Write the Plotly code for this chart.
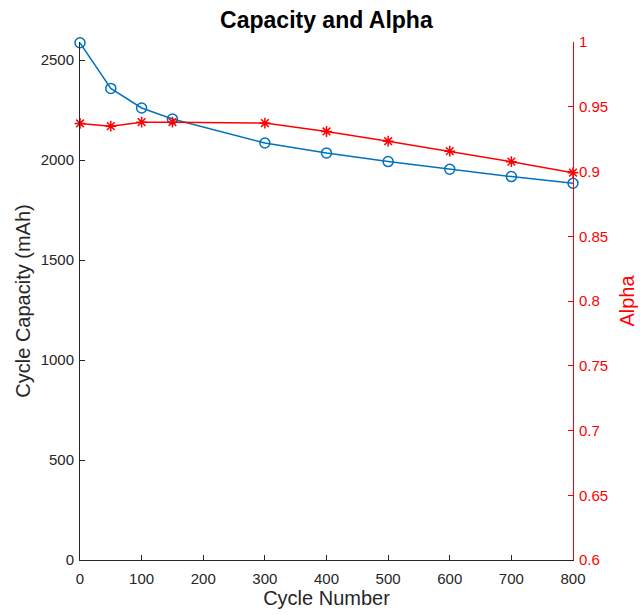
import plotly.graph_objects as go

# Cycle data
cycle_number = [0, 50, 100, 150, 300, 400, 500, 600, 700, 800]
capacity_mah = [2586, 2358, 2260, 2205, 2085, 2035, 1992, 1954, 1917, 1884]
alpha = [0.9371, 0.9350, 0.9381, 0.9381, 0.9374, 0.9309, 0.9234, 0.9157, 0.9076, 0.8991]

x_ticks = [0, 100, 200, 300, 400, 500, 600, 700, 800]
left_ticks = [0, 500, 1000, 1500, 2000, 2500]
right_ticks = [0.6, 0.65, 0.7, 0.75, 0.8, 0.85, 0.9, 0.95, 1.0]
right_tick_text = ["0.6", "0.65", "0.7", "0.75", "0.8", "0.85", "0.9", "0.95", "1"]

BLUE = "#0072BD"
RED = "#FF0000"
DARK = "#262626"
FONT = "Liberation Sans, Arial, sans-serif"

fig = go.Figure()

fig.add_trace(go.Scatter(
    x=cycle_number, y=capacity_mah, mode="lines+markers",
    line=dict(color=BLUE, width=1.5),
    marker=dict(symbol="circle-open", size=10, color=BLUE, line=dict(width=1.5)),
    yaxis="y", showlegend=False, cliponaxis=False,
))

fig.add_trace(go.Scatter(
    x=cycle_number, y=alpha, mode="lines+markers",
    line=dict(color=RED, width=1.5),
    marker=dict(symbol="asterisk-open", size=9, color=RED, line=dict(width=1.5, color=RED)),
    yaxis="y2", showlegend=False, cliponaxis=False,
))

fig.update_layout(
    width=640, height=615,
    margin=dict(l=80, r=67, t=42, b=55),
    paper_bgcolor="white", plot_bgcolor="white",
    font=dict(family=FONT, size=15, color=DARK),
    title=dict(text="<b>Capacity and Alpha</b>", x=0.51, xanchor="center",
               y=0.967, yanchor="middle", font=dict(size=23, color="black")),
    xaxis=dict(
        range=[0, 800], tickvals=x_ticks, showgrid=False, zeroline=False,
        showline=True, linecolor=DARK, linewidth=1, automargin=False,
        ticks="inside", ticklen=5, tickcolor=DARK, ticklabelstandoff=5,
        title=dict(text="Cycle Number", font=dict(size=20), standoff=4),
    ),
    yaxis=dict(
        range=[0, 2590], tickvals=left_ticks, showgrid=False, zeroline=False,
        showline=True, linecolor=DARK, linewidth=1, automargin=False,
        ticks="inside", ticklen=5, tickcolor=DARK, ticklabelstandoff=2,
        title=dict(text="Cycle Capacity (mAh)", font=dict(size=20), standoff=4),
    ),
    yaxis2=dict(
        range=[0.6, 1.0], tickvals=right_ticks, ticktext=right_tick_text,
        overlaying="y", side="right", showgrid=False, zeroline=False,
        showline=True, linecolor=RED, linewidth=1, automargin=False,
        ticks="inside", ticklen=5, tickcolor=RED, ticklabelstandoff=2,
        tickfont=dict(color=RED),
        title=dict(text="Alpha", font=dict(size=20, color=RED), standoff=12),
    ),
)

fig.write_html("out.html")
